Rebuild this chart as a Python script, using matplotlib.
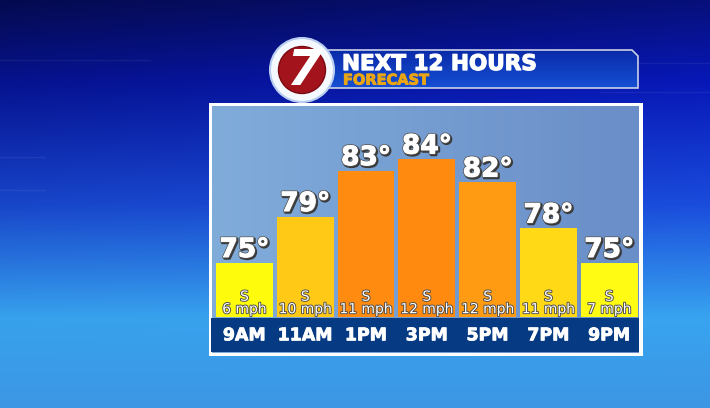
import matplotlib
matplotlib.use("Agg")
import matplotlib.pyplot as plt
import matplotlib.patheffects as pe
from matplotlib.colors import to_rgb
from matplotlib.patches import Circle, Polygon, Rectangle
import numpy as np

# ---------------------------------------------------------------------------
# data
# ---------------------------------------------------------------------------
HOURS = ["9AM", "11AM", "1PM", "3PM", "5PM", "7PM", "9PM"]
TEMPS = [75, 79, 83, 84, 82, 78, 75]
WIND_DIR = ["S", "S", "S", "S", "S", "S", "S"]
WIND_MPH = [6, 10, 11, 12, 12, 11, 7]
BAR_COLORS = ["#FFFB0C", "#FFC916", "#FF8B10", "#FF8A0F", "#FF9B12", "#FFD915", "#FFFB12"]

TITLE = "NEXT 12 HOURS"
SUBTITLE = "FORECAST"

W, H = 710, 408


def fig_rect(x0, y0, x1, y1):
    """pixel box (top-left origin) -> figure fraction rect"""
    return [x0 / W, 1 - y1 / H, (x1 - x0) / W, (y1 - y0) / H]


def vgrad(stops, n=256):
    pos = np.array([s[0] for s in stops])
    cols = np.array([to_rgb(s[1]) for s in stops])
    t = np.linspace(0, 1, n)
    return np.stack([np.interp(t, pos, cols[:, k]) for k in range(3)], axis=-1)


fig = plt.figure(figsize=(W / 100, H / 100), dpi=100)
bg = fig.add_axes([0, 0, 1, 1])
bg.set_xlim(0, W)
bg.set_ylim(H, 0)
bg.axis("off")

# backdrop: dark navy at top, sky blue toward the bottom
col = vgrad([(0, "#07107a"), (0.2, "#0818b8"), (0.5, "#1a4cdc"),
             (0.78, "#38a4f0"), (1.0, "#3d96e4")])
xs = np.linspace(0, 1, 300)
shade = 1 - 0.35 * np.clip(1 - xs, 0, 1)[None, :, None] * np.linspace(1, 0, 256)[:, None, None] ** 2
img = col[:, None, :] * shade
bg.imshow(img, extent=(0, W, H, 0), aspect="auto", zorder=0)

# faint decorative streaks
for x0, y0, x1 in [(0, 60, 150), (0, 157, 45), (0, 190, 45), (595, 63, 710), (600, 92, 710)]:
    bg.plot([x0, x1], [y0, y0], color="white", alpha=0.06, lw=1, zorder=1)

# panel
bg.add_patch(Rectangle((209, 103), 434, 253, fc="white", ec="none", zorder=2))
pg = vgrad([(0, "#80acda"), (1, "#6a8ec8")], 200)
bg.imshow(pg[None, :, :], extent=(212, 639, 353, 106), aspect="auto", zorder=3)
bg.add_patch(Rectangle((211, 318), 428, 34, fc="#063a82", ec="none", zorder=4))

# header banner
banner = Polygon([(322, 50), (632, 50), (638, 56), (638, 88), (322, 88)],
                 closed=True, fc="none", ec="#c9d0e6", lw=1.2, zorder=6)
bg.add_patch(banner)
bgrad = vgrad([(0, "#0a2aa8"), (1, "#1550d4")], 64)
bim = bg.imshow(bgrad[:, None, :], extent=(322, 638, 88, 50), aspect="auto", zorder=5)
bim.set_clip_path(banner)
bg.text(342, 70, TITLE, color="white", fontsize=15.5, fontweight="bold",
        ha="left", va="baseline", zorder=7,
        path_effects=[pe.Stroke(linewidth=0.9, foreground="white"), pe.Normal()])
bg.text(343, 84.5, SUBTITLE, color="#e9a514", fontsize=10.5, fontweight="bold",
        ha="left", va="baseline", zorder=7,
        path_effects=[pe.Stroke(linewidth=0.7, foreground="#e9a514"), pe.Normal()])

# logo
bg.add_patch(Circle((302, 70), 32, fc="#f4f8ff", ec="#b8cdf0", lw=1.5, zorder=8))
bg.add_patch(Circle((302, 70), 23.5, fc="#a3131b", ec="#7a0a10", lw=1, zorder=9))
bg.text(303, 71, "7", color="white", fontsize=36, fontweight="bold", style="italic",
        ha="center", va="center", zorder=10)

# ---------------------------------------------------------------------------
# bars
# ---------------------------------------------------------------------------
ax = fig.add_axes(fig_rect(214, 106, 639.6, 317))
ax.set_facecolor("none")
ymin, ymax = 70.3, 88.65
x = np.arange(len(HOURS))
ax.bar(x, np.array(TEMPS) - ymin, bottom=ymin, width=0.935, color=BAR_COLORS,
       edgecolor="none", zorder=2)
ax.set_xlim(-0.5, len(HOURS) - 0.5)
ax.set_ylim(ymin, ymax)
ax.axis("off")

temp_fx = [pe.Stroke(linewidth=2.2, foreground="#3a3a3a", offset=(0.9, -0.9)),
           pe.Stroke(linewidth=1.8, foreground="#555555"),
           pe.Stroke(linewidth=0.7, foreground="white"), pe.Normal()]
wind_fx = [pe.Stroke(linewidth=1.3, foreground="#4a4a4a"), pe.Normal()]

for i, t in enumerate(TEMPS):
    ax.annotate(f"{t}°", xy=(i, t), xytext=(0, 4.3), textcoords="offset points",
                ha="center", va="baseline", color="white", fontsize=19,
                fontweight="bold", path_effects=temp_fx, zorder=5,
                annotation_clip=False)
    ax.annotate(WIND_DIR[i], xy=(i, ymin), xytext=(0, 14.6), textcoords="offset points",
                ha="center", va="center", color="white", fontsize=10,
                path_effects=wind_fx, zorder=5, annotation_clip=False)
    ax.annotate(f"{WIND_MPH[i]} mph", xy=(i, ymin), xytext=(0, 5.6),
                textcoords="offset points", ha="center", va="center", color="white",
                fontsize=10, path_effects=wind_fx, zorder=5, annotation_clip=False)
    ax.annotate(HOURS[i], xy=(i, ymin), xytext=(0, -13.2), textcoords="offset points",
                ha="center", va="center", color="white", fontsize=12.5,
                fontweight="bold", zorder=5, annotation_clip=False,
                path_effects=[pe.Stroke(linewidth=0.6, foreground="white"), pe.Normal()])

fig.savefig("out.png", dpi=100)
